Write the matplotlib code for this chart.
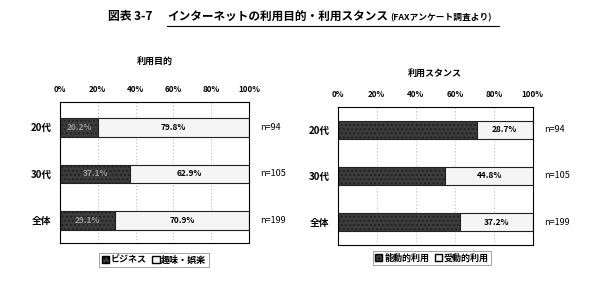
import matplotlib.pyplot as plt
from matplotlib.patches import Patch
from matplotlib.lines import Line2D

plt.rcParams['font.family'] = ['Noto Sans CJK JP', 'DejaVu Sans']

# data
categories = ['20代', '30代', '全体']
n_labels = ['n=94', 'n=105', 'n=199']
ticks = [0, 20, 40, 60, 80, 100]

purpose_names = ['ビジネス', '趣味・娯楽']
business = [20.2, 37.1, 29.1]
hobby = [79.8, 62.9, 70.9]

stance_names = ['能動的利用', '受動的利用']
active = [71.3, 55.2, 62.8]
passive = [28.7, 44.8, 37.2]

DARK = '#3c3c3c'
LIGHT = '#f5f5f5'


def draw_panel(ax, first, second, title, show_first, ylim, pad):
    ys = range(len(categories))
    ax.barh(ys, first, height=0.4, color=DARK, edgecolor='#222222', hatch='....', linewidth=0.8)
    ax.barh(ys, second, left=first, height=0.4, color=LIGHT, edgecolor='#222222', linewidth=0.8)
    for y, a, b in zip(ys, first, second):
        if show_first:
            ax.text(a / 2, y, f'{a:.1f}%', ha='center', va='center', fontsize=6,
                    color='#9a9a9a', fontweight='bold')
        ax.text(a + b / 2, y, f'{b:.1f}%', ha='center', va='center', fontsize=6,
                color='black', fontweight='bold')
    ax.set_xlim(0, 100)
    ax.set_ylim(*ylim)
    ax.set_xticks(ticks)
    ax.set_xticklabels([f'{t}%' for t in ticks], fontsize=5.8, fontweight='bold')
    ax.xaxis.tick_top()
    ax.tick_params(axis='x', length=0, pad=6)
    ax.set_yticks(list(ys))
    ax.set_yticklabels(categories, fontsize=7, fontweight='bold')
    ax.tick_params(axis='y', length=0, pad=6)
    for t in ticks[1:-1]:
        ax.axvline(t, color='#999999', linestyle=(0, (1, 3)), linewidth=0.6, zorder=0)
    for s in ax.spines.values():
        s.set_linewidth(0.8)
    for y, n in zip(ys, n_labels):
        ax.text(1.06, y, n, transform=ax.get_yaxis_transform(), ha='left', va='center', fontsize=6.5)
    ax.set_title(title, fontsize=6.5, fontweight='bold', pad=pad)


fig = plt.figure(figsize=(6, 2.82), dpi=100)
ax1 = fig.add_axes([0.1, 0.138, 0.315, 0.499])
ax2 = fig.add_axes([0.563, 0.131, 0.325, 0.49])

draw_panel(ax1, business, hobby, '利用目的', True, (2.49, -0.54), 27)
draw_panel(ax2, active, passive, '利用スタンス', False, (2.5, -0.5), 22)

# title
fig.text(0.18, 0.94, '図表 3-7', fontsize=8.5, fontweight='bold', ha='left', va='center')
fig.text(0.278, 0.94, 'インターネットの利用目的・利用スタンス', fontsize=8.4, fontweight='bold',
         ha='left', va='center')
fig.text(0.65, 0.937, '(FAXアンケート調査より)', fontsize=6.3, fontweight='bold',
         ha='left', va='center')
fig.add_artist(Line2D([0.278, 0.832], [0.908, 0.908], color='black', linewidth=0.8))

for names, x, y in [(purpose_names, 0.257, 0.078), (stance_names, 0.72, 0.085)]:
    handles = [Patch(facecolor=DARK, edgecolor='black', hatch='....'),
               Patch(facecolor=LIGHT, edgecolor='black')]
    leg = fig.legend(handles, names, loc='center', bbox_to_anchor=(x, y), ncol=2,
                     fontsize=6.5, handlelength=0.8, handleheight=0.8, handletextpad=0.2,
                     columnspacing=0.6, borderpad=0.3, frameon=True, fancybox=False)
    leg.get_frame().set_edgecolor('#777777')
    leg.get_frame().set_linewidth(0.6)
    for t in leg.get_texts():
        t.set_fontweight('bold')

fig.savefig('out.png', dpi=100)
